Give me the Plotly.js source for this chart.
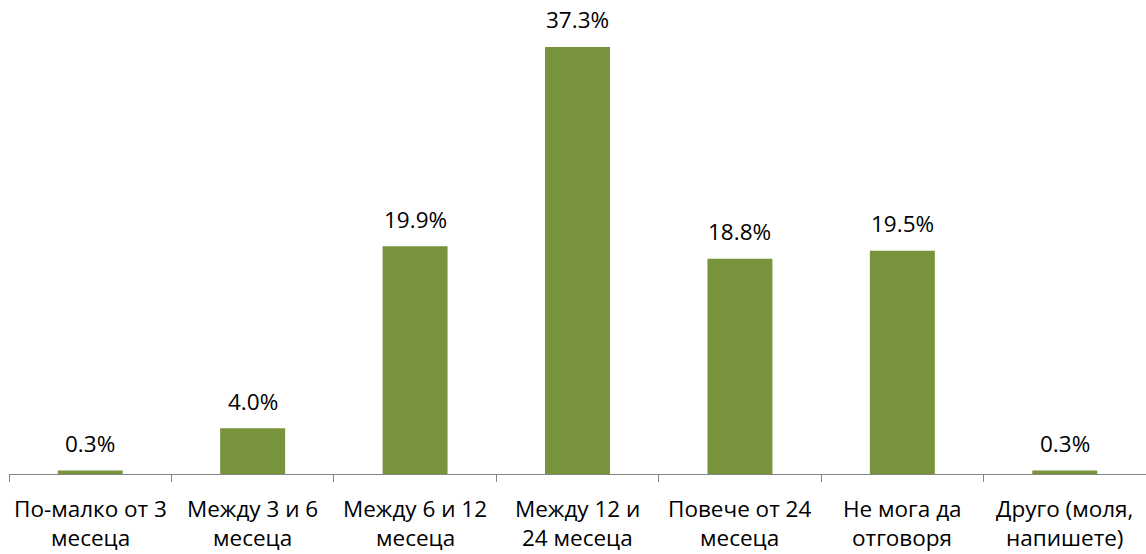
<!DOCTYPE html>
<html>
<head>
<meta charset="utf-8">
<script src="https://cdn.plot.ly/plotly-3.0.1.min.js"></script>
<style>
  html, body { margin: 0; padding: 0; background: #fff; }
  #chart { width: 1146px; height: 554px; }
</style>
</head>
<body>
<div id="chart"></div>
<script>
// Survey answer categories
const categories = [
  'По-малко от 3 месеца',
  'Между 3 и 6 месеца',
  'Между 6 и 12 месеца',
  'Между 12 и 24 месеца',
  'Повече от 24 месеца',
  'Не мога да отговоря',
  'Друго (моля, напишете)'
];
// How each category label wraps onto two lines
const labelLine1 = ['По-малко от 3', 'Между 3 и 6', 'Между 6 и 12', 'Между 12 и', 'Повече от 24', 'Не мога да', 'Друго (моля,'];
const labelLine2 = ['месеца', 'месеца', 'месеца', '24 месеца', 'месеца', 'отговоря', 'напишете)'];
// Share of respondents, percent
const shares = [0.3, 4.0, 19.9, 37.3, 18.8, 19.5, 0.3];

const FONT = '"Open Sans", "Noto Sans", sans-serif';
const FONT_SIZE = 22.5;
const BAR_GREEN = '#77933C';
const AXIS_GRAY = '#868686';

const trace = {
  type: 'bar',
  x: categories,
  y: shares,
  marker: { color: BAR_GREEN },
  width: 0.4,
  hoverinfo: 'skip'
};

const annotations = [];
// value labels above each bar
categories.forEach((c, i) => {
  annotations.push({
    x: c, y: shares[i], xref: 'x', yref: 'y',
    text: shares[i].toFixed(1) + '%',
    showarrow: false, xanchor: 'center', yanchor: 'middle', yshift: 27,
    borderpad: 0,
    font: { family: FONT, size: FONT_SIZE, color: '#000' }
  });
});
// two-line category labels under the axis
categories.forEach((c, i) => {
  annotations.push({
    x: c, y: 0, xref: 'x', yref: 'paper',
    text: labelLine1[i],
    showarrow: false, xanchor: 'center', yanchor: 'middle', yshift: -34,
    borderpad: 0,
    font: { family: FONT, size: FONT_SIZE, color: '#000' }
  });
  annotations.push({
    x: c, y: 0, xref: 'x', yref: 'paper',
    text: labelLine2[i],
    showarrow: false, xanchor: 'center', yanchor: 'middle', yshift: -63,
    borderpad: 0,
    font: { family: FONT, size: FONT_SIZE, color: '#000' }
  });
});

const layout = {
  width: 1146,
  height: 554,
  margin: { l: 9, r: 0, t: 16, b: 80 },
  paper_bgcolor: '#fff',
  plot_bgcolor: '#fff',
  showlegend: false,
  font: { family: FONT, size: FONT_SIZE, color: '#000' },
  xaxis: {
    type: 'category',
    showline: true,
    linecolor: AXIS_GRAY,
    linewidth: 1,
    ticks: 'outside',
    tickson: 'boundaries',
    ticklen: 7,
    tickcolor: AXIS_GRAY,
    showgrid: false,
    showticklabels: false,
    fixedrange: true
  },
  yaxis: {
    range: [0, 40],
    visible: false,
    showgrid: false,
    zeroline: false,
    fixedrange: true
  },
  annotations: annotations
};

Plotly.newPlot('chart', [trace], layout, { displayModeBar: false, staticPlot: true });
</script>
</body>
</html>
